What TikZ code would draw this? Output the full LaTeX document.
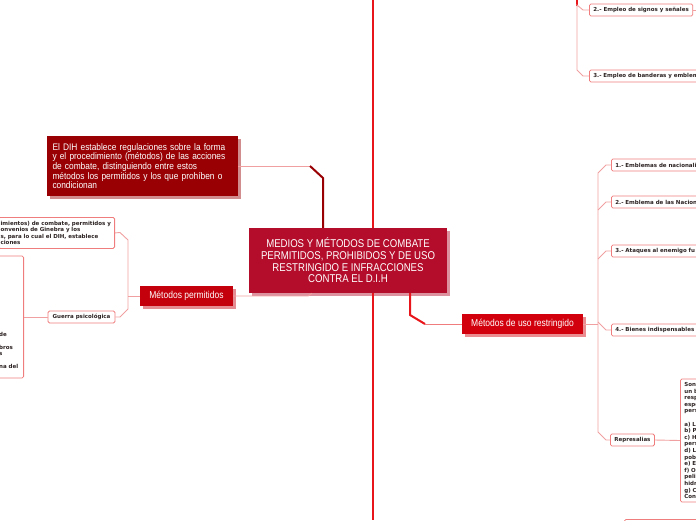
\documentclass[tikz,border=0pt]{standalone}
\usepackage{fontspec}
\setmainfont{Liberation Sans}
\newfontfamily\condfont[FakeStretch=0.85]{Liberation Sans}
\newfontfamily\notefont[FakeStretch=0.88]{Liberation Sans}
\newfontfamily\tinyfont{DejaVu Sans}
\usetikzlibrary{shadows}

\definecolor{mmcrimson}{RGB}{180,13,43}
\definecolor{mmdark}{RGB}{152,0,4}
\definecolor{mmperm}{RGB}{196,0,12}
\definecolor{mmrestr}{RGB}{210,0,12}
\definecolor{mmred}{RGB}{232,22,26}
\definecolor{mmpink}{RGB}{240,125,125}
\definecolor{mmpale}{RGB}{240,160,160}
\definecolor{mmtext}{RGB}{45,35,35}

\begin{document}
\begin{tikzpicture}[x=1pt, y=-1pt,
    topic/.style={fill=#1, text=white, inner sep=0pt,
      font=\condfont\fontsize{10}{12}\selectfont,
      drop shadow={shadow xshift=2.5pt, shadow yshift=-2.5pt, fill=#1, opacity=0.45}},
    leaf/.style={draw=mmpink, line width=0.8pt, fill=white, rounded corners=1.5pt,
      text=mmtext, font=\tinyfont\bfseries\fontsize{5.5}{6.6}\selectfont,
      inner xsep=4pt, inner ysep=0pt, minimum height=12, align=left},
    thinlink/.style={draw=mmpale, line width=0.9pt},
    thicklink/.style={draw=#1, line width=2pt}]
    \useasboundingbox (0,0) rectangle (696,520);
    \clip (0,0) rectangle (696,520);

    % central topic
    \node[topic=mmcrimson, minimum width=198, minimum height=65, align=center,
      font=\condfont\fontsize{11.3}{11.6}\selectfont] (medios) at (348,260.5)
      {MEDIOS Y MÉTODOS DE COMBATE\\PERMITIDOS, PROHIBIDOS Y DE USO\\RESTRINGIDO E INFRACCIONES\\CONTRA EL D.I.H};
    \node[topic=mmdark, minimum width=191, minimum height=60, text width=180, inner xsep=5.5pt,
      align=left, font=\notefont\fontsize{9.5}{9.7}\selectfont] (dih) at (142.5,166)
      {El DIH establece regulaciones sobre la forma\\y el procedimiento (métodos) de las acciones\\de combate, distinguiendo entre estos\\métodos los permitidos y los que prohíben o\\condicionan};

    % main axis
    \coordinate (axis) at (373,0);
    \coordinate (axisend) at (373,520);
    \draw[thicklink=mmred] (medios.north -| axis) -- (axis);
    \draw[thicklink=mmred] (medios.south -| axis) -- (axisend);
    \coordinate (dihbend) at (310,166);
    \coordinate (dihdrop) at (323,178);
    \draw[thinlink] (dih.east) -- (dihbend);
    \draw[thicklink=mmdark] (dihbend) -- (dihdrop) -- (medios.north -| dihdrop);

    % left: permitted methods
    \node[topic=mmperm, minimum width=93, minimum height=20] (perm) at (186.5,296) {Métodos permitidos};
    \node[leaf, anchor=north east, text width=112, inner xsep=2pt, minimum height=31] (proc) at (115,217)
      {imientos) de combate, permitidos y\\onvenios de Ginebra y los\\s, para lo cual el DIH, establece\\ciones};
    \node[leaf, minimum width=67] (guerra) at (81.5,317) {Guerra psicológica};
    \node[leaf, anchor=east, minimum width=60, minimum height=122] (guerrabox) at (24,317) {};
    \node[anchor=north west, inner sep=0pt, align=left, text=mmtext,
      font=\tinyfont\bfseries\fontsize{5.5}{6.3}\selectfont] (guerratxt) at (-1,332.5)
      {de\\\mbox{}\\bros\\s\\\mbox{}\\na del};

    \coordinate (permx) at (312,0);
    \draw[thinlink] (perm.east) -- (308,296) -- (medios.south -| permx);
    \draw[thinlink] (perm.west) -- (128,296);
    \draw[thinlink] (proc.east) -- (120,232.5) -- (128,240) -- (128,309) -- (120,317) -- (guerra.east);
    \draw[thinlink] (guerra.west) -- (guerrabox.east);

    % right: restricted methods
    \node[topic=mmrestr, minimum width=121, minimum height=20] (restr) at (522.5,324) {Métodos de uso restringido};
    \node[leaf, anchor=west, text width=110] (c1) at (611,165) {1.- Emblemas de nacionali};
    \node[leaf, anchor=west, text width=110] (c2) at (611,202) {2.- Emblema de las Nacion};
    \node[leaf, anchor=west, text width=110] (c3) at (611,251) {3.- Ataques al enemigo fu};
    \node[leaf, anchor=west, text width=110] (c4) at (611,330) {4.- Bienes indispensables};
    \node[leaf, anchor=west] (repr) at (610,440) {Represalias};
    \node[leaf, anchor=west, text width=60, minimum height=123, font=\tinyfont\bfseries\fontsize{5.5}{6.6}\selectfont]
      (reprbox) at (680,440.5)
      {Son\\un b\\resp\\espe\\pers\\\mbox{}\\a) L\\b) P\\c) H\\pers\\d) L\\pob\\e) E\\f) O\\peli\\hidr\\g) C\\Con};
    \node[leaf, anchor=north west, minimum width=100, minimum height=30] (lowbox) at (624,519) {};

    \coordinate (restrx) at (410,0);
    \draw[thicklink=mmred] (medios.south -| restrx) -- (410,315) -- (425,324);
    \draw[draw=mmpink, line width=0.9pt] (425,324) -- (restr.west);
    \draw[thinlink] (restr.east) -- (598,324);
    \draw[thinlink] (c1.west) -- (606,165) -- (598,173) -- (598,432) -- (606,440) -- (repr.west);
    \draw[thinlink] (c2.west) -- (606,202) -- (598,210);
    \draw[thinlink] (c3.west) -- (606,251) -- (598,259);
    \draw[thinlink] (c4.west) -- (606,330) -- (598,322);
    \draw[thinlink] (repr.east) -- (reprbox.west);

    % top right: signs and flags
    \node[leaf, anchor=west] (t2) at (589,10) {2.- Empleo de signos y señales};
    \node[leaf, anchor=west, text width=110] (t3) at (589,76) {3.- Empleo de banderas y emblem};
    \coordinate (tend) at (700,10);
    \draw[thicklink=mmred] (577,-2) -- (577,6);
    \draw[thinlink] (t2.west) -- (583,10) -- (577,5) -- (577,70) -- (583,76) -- (t3.west);
    \draw[thinlink] (t2.east) -- (tend);
\end{tikzpicture}
\end{document}
